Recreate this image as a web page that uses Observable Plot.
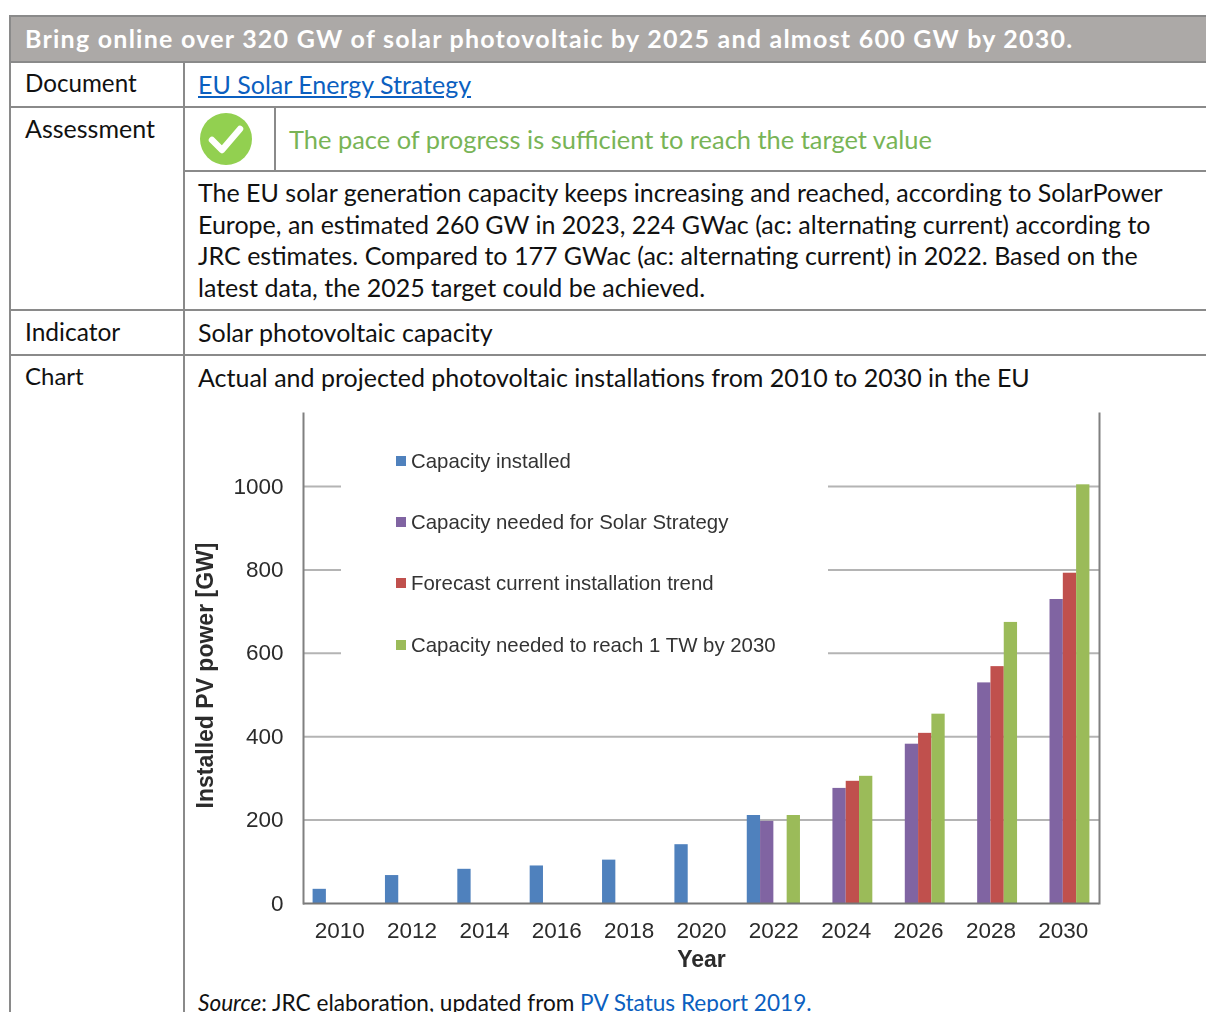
<!DOCTYPE html>
<html>
<head>
<meta charset="utf-8">
<script src="https://cdn.jsdelivr.net/npm/d3@7"></script>
<script src="https://cdn.jsdelivr.net/npm/@observablehq/plot@0.6"></script>
<style>
  html, body { margin: 0; padding: 0; background: #fff; }
  #page { position: relative; width: 1206px; height: 1012px; overflow: hidden; font-family: "Lato", sans-serif; color: #111; }
  .line { position: absolute; background: #8a8a8a; }
  .t { position: absolute; white-space: nowrap; font-size: 25px; line-height: 30px; }
  a { color: #0b5fc0; }
  #chart { position: absolute; left: 183px; top: 405px; filter: blur(0.4px); }
  #legend { position: absolute; left: 341px; top: 440px; width: 487px; height: 232px; background: #fff; filter: blur(0.4px); }
  .key { position: absolute; left: 55px; font: 20.4px/24px "Liberation Sans", sans-serif; color: #333; white-space: nowrap; }
  .key i { position: absolute; left: 0; top: 7px; width: 10px; height: 10px; }
  .key span { position: absolute; left: 15px; }
  #chart svg text { fill: #2b2b2b; }
</style>
</head>
<body>
<div id="page"></div>
<script>
// Installed and projected PV capacity in the EU, GW, by year and scenario.
const years = [2010, 2012, 2014, 2016, 2018, 2020, 2022, 2024, 2026, 2028, 2030];
const seriesNames = [
  "Capacity installed",
  "Capacity needed for Solar Strategy",
  "Forecast current installation trend",
  "Capacity needed to reach 1 TW by 2030"
];
const seriesColors = ["#4f81bd", "#8064a2", "#c0504d", "#9bbb59"];
const capacityInstalled = [34, 67, 82, 90, 104, 141, 211, null, null, null, null];
const solarStrategy = [null, null, null, null, null, null, 197, 276, 382, 529, 729];
const currentTrend = [null, null, null, null, null, null, null, 293, 408, 568, 792];
const oneTerawatt = [null, null, null, null, null, null, 211, 305, 454, 674, 1004];
const yTicks = [0, 200, 400, 600, 800, 1000];

// Each group of four columns spans 1.47 years of the two-year step
const columnSpan = 1.47 / seriesNames.length;
const table = [capacityInstalled, solarStrategy, currentTrend, oneTerawatt].flatMap((values, s) =>
  values
    .map((value, i) => ({
      start: years[i] + (s - 2) * columnSpan,
      end: years[i] + (s - 1) * columnSpan,
      series: seriesNames[s],
      value
    }))
    .filter((d) => d.value !== null)
);

const page = document.getElementById("page");

// Table rules, header band and cell text
function rule(left, top, width, height, color) {
  const d = document.createElement("div");
  d.className = "line";
  d.style.cssText = `left:${left}px;top:${top}px;width:${width}px;height:${height}px;` + (color ? `background:${color}` : "");
  page.appendChild(d);
}
function text(left, center, html, style) {
  const d = document.createElement("div");
  d.className = "t";
  d.style.cssText = `left:${left}px;top:${center - 15}px;` + (style || "");
  d.innerHTML = html;
  page.appendChild(d);
}
rule(9, 17, 1197, 45, "#aca9a7");
rule(9, 15, 1197, 2);
rule(9, 61, 1197, 2);
rule(9, 106, 1197, 2);
rule(183, 170, 1023, 2);
rule(9, 309, 1197, 2);
rule(9, 354, 1197, 2);
rule(9, 15, 2, 997);
rule(183, 62, 2, 950);
rule(274, 106, 2, 65);

text(25, 38, "Bring online over 320 GW of solar photovoltaic by 2025 and almost 600 GW by 2030.", "color:#fff;font-weight:700;letter-spacing:1.24px");
text(25, 83, "Document", "font-size:24.2px");
text(198, 84, '<a href="#">EU Solar Energy Strategy</a>');
text(25, 128, "Assessment");
text(289, 139, "The pace of progress is sufficient to reach the target value", "color:#78b456;font-size:25.45px");
text(198, 192, "The EU solar generation capacity keeps increasing and reached, according to SolarPower");
text(198, 224, "Europe, an estimated 260 GW in 2023, 224 GWac (ac: alternating current) according to");
text(198, 255, "JRC estimates. Compared to 177 GWac (ac: alternating current) in 2022. Based on the");
text(198, 287, "latest data, the 2025 target could be achieved.");
text(25, 332, "Indicator", "font-size:24.5px");
text(198, 332, "Solar photovoltaic capacity");
text(25, 376, "Chart", "font-size:24px");
text(198, 377, "Actual and projected photovoltaic installations from 2010 to 2030 in the EU");
text(198, 1003, '<em>Source</em>: JRC elaboration, updated from <a href="#" style="text-decoration:none">PV Status Report 2019.</a>', "font-size:22.6px");

// Assessment tick icon
const icon = document.createElement("div");
icon.innerHTML = `<svg width="54" height="54" viewBox="0 0 54 54" style="position:absolute;left:199px;top:112px">
  <circle cx="27" cy="27" r="26" fill="#92d050"/>
  <path d="M13 28 L23 38 L41 17" fill="none" stroke="#fff" stroke-width="6.5" stroke-linecap="round" stroke-linejoin="round"/>
</svg>`;
page.appendChild(icon);

// Grouped columns on a continuous year axis, labelled every two years
const chart = Plot.plot({
  width: 940,
  height: 582,
  marginTop: 8,
  marginLeft: 120,
  marginRight: 24,
  marginBottom: 84,
  style: {fontFamily: "Liberation Sans, sans-serif", fontSize: "22.5px", overflow: "visible"},
  x: {domain: [2009, 2031], label: null},
  y: {domain: [0, 1175], label: null},
  color: {domain: seriesNames, range: seriesColors},
  marks: [
    Plot.ruleY(yTicks.slice(1), {stroke: "#b4b4b4", strokeWidth: 2}),
    Plot.rectY(table, {x1: "start", x2: "end", y: "value", fill: "series"}),
    Plot.ruleY([0], {stroke: "#777", strokeWidth: 2}),
    Plot.frame({anchor: "left", stroke: "#808080", strokeWidth: 2}),
    Plot.frame({anchor: "right", stroke: "#808080", strokeWidth: 2}),
    Plot.axisY({ticks: yTicks, tickSize: 0, tickPadding: 20, label: null, fontSize: 22.5, tickFormat: (d) => String(d)}),
    Plot.text(["Installed PV power [GW]"], {frameAnchor: "left", textAnchor: "middle", rotate: -90, dx: -98, dy: 17, fontWeight: "bold", fontSize: 23, fill: "#1a1a1a"}),
    Plot.axisX({ticks: years, tickSize: 0, tickPadding: 19, label: null, fontSize: 22.5, tickFormat: (d) => String(d)}),
    Plot.axisX({ticks: [], label: "Year", labelAnchor: "center", labelArrow: "none", labelOffset: 63, fontWeight: "bold", fontSize: 23})
  ]
});
const holder = document.createElement("div");
holder.id = "chart";
holder.appendChild(chart);
page.appendChild(holder);

// Legend sits on a white panel across the upper gridlines
const legend = document.createElement("div");
legend.id = "legend";
[9, 70, 131, 193].forEach((top, i) => {
  const k = document.createElement("div");
  k.className = "key";
  k.style.top = top + "px";
  k.innerHTML = `<i style="background:${seriesColors[i]}"></i><span>${seriesNames[i]}</span>`;
  legend.appendChild(k);
});
page.appendChild(legend);
</script>
</body>
</html>
